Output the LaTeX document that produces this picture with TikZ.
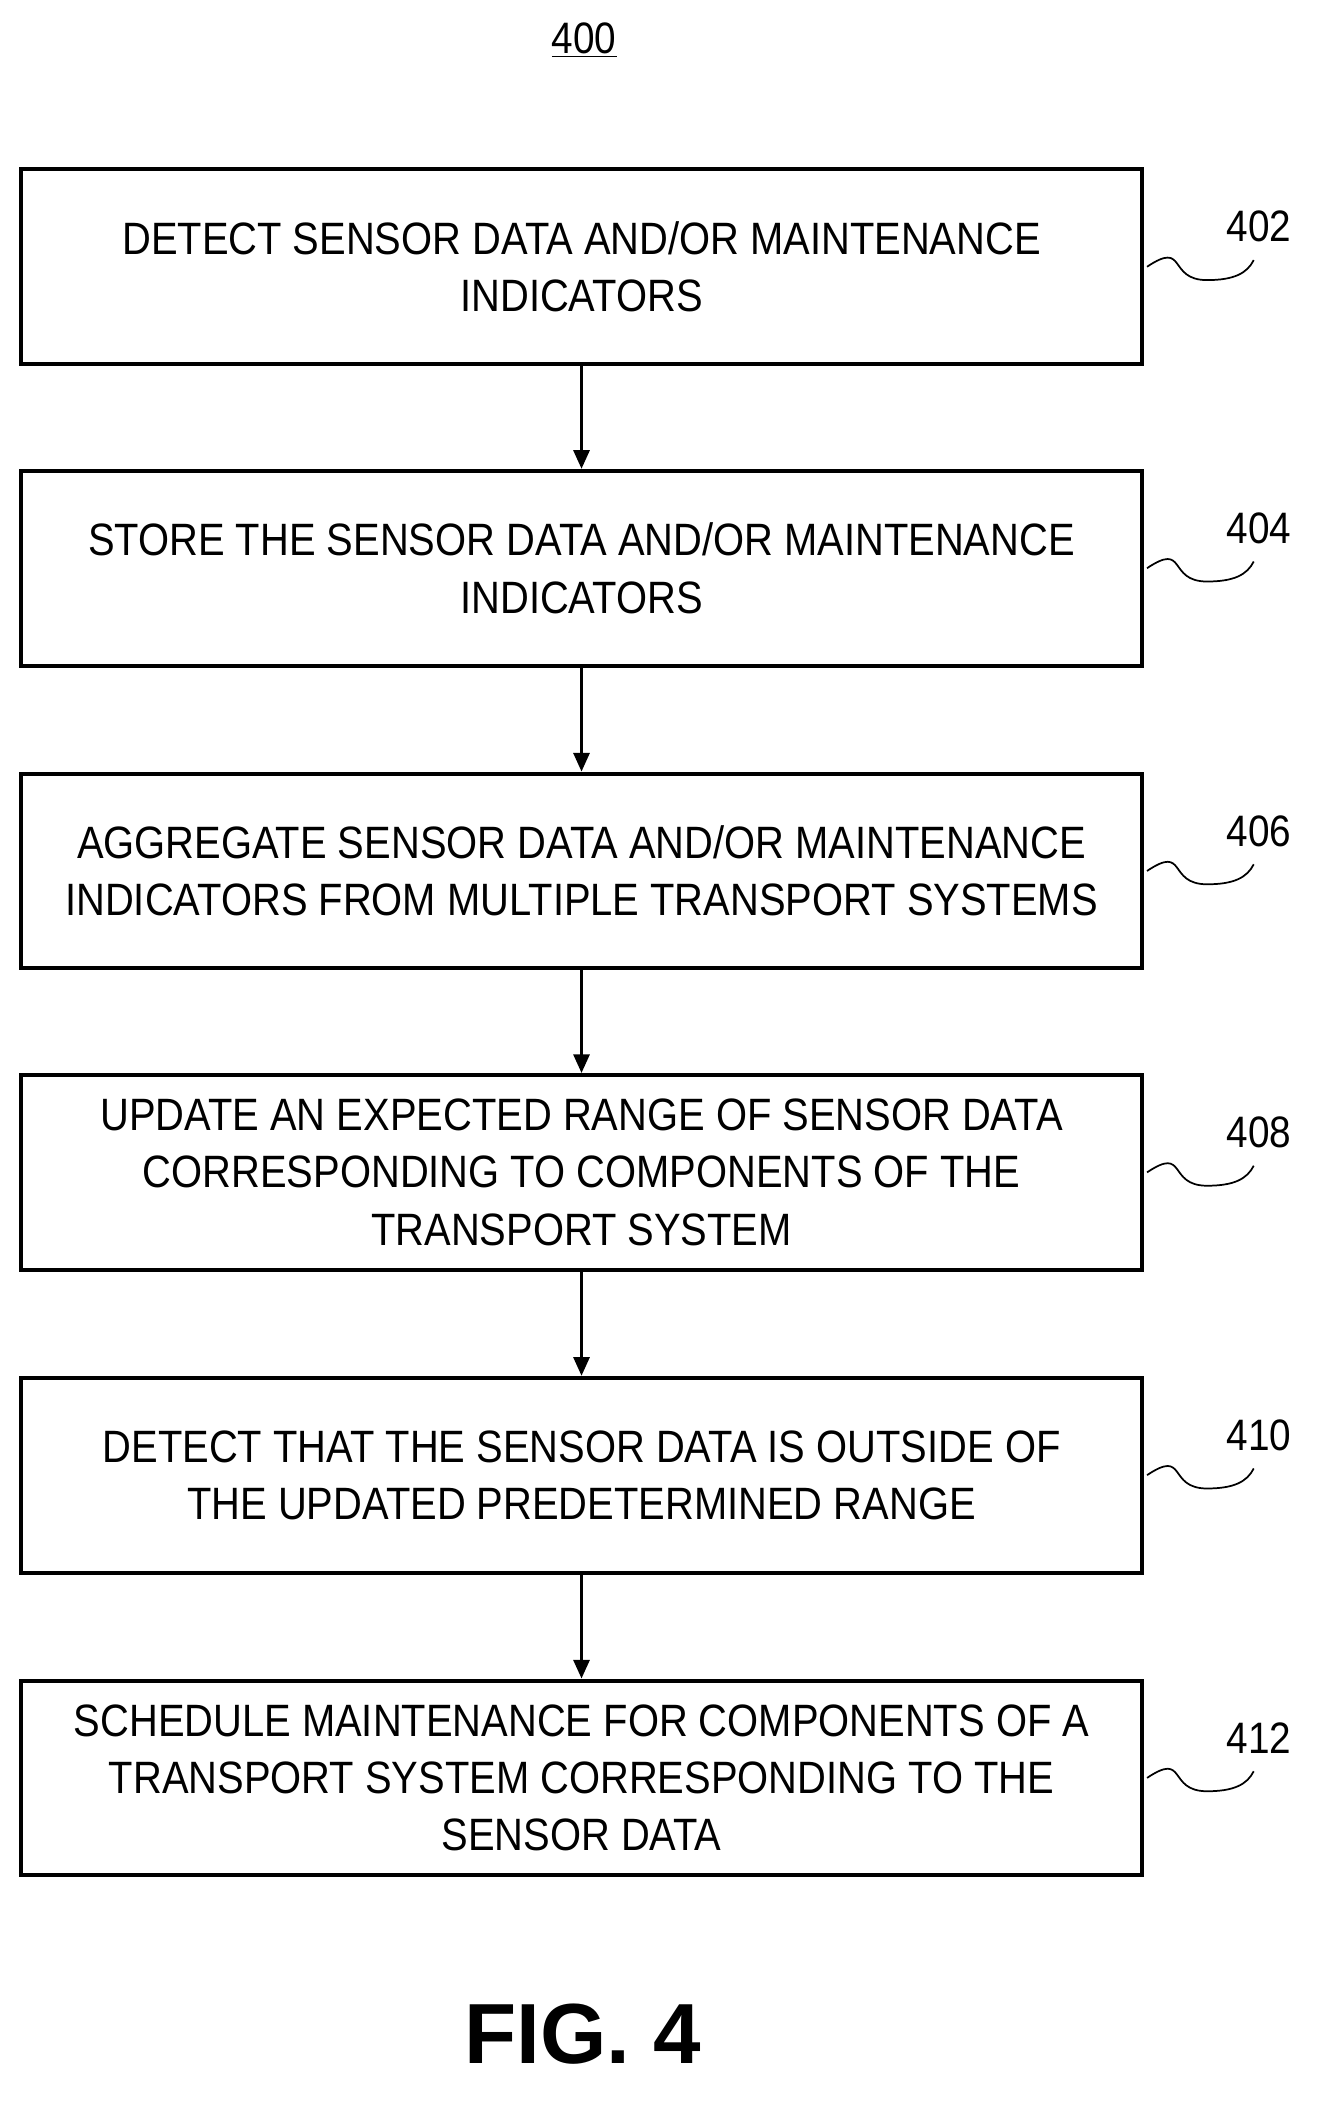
\documentclass[tikz,border=0pt]{standalone}
\usepackage{fontspec}
\setmainfont{Liberation Sans}[FakeStretch=0.88]
\newfontfamily\figfont{Liberation Sans}
\usetikzlibrary{arrows.meta}
\usetikzlibrary{positioning}

\begin{document}
\begin{tikzpicture}[x=1pt,y=-1pt,
    stepbox/.style={draw,line width=3pt,minimum width=841pt,minimum height=146pt,
      align=center,font=\fontsize{34}{43}\selectfont,inner sep=0pt},
    flow/.style={-{Triangle[length=14pt,width=12pt]},line width=2.2pt},
    tag/.style={font=\fontsize{33}{36}\selectfont}]
  \useasboundingbox (0,0) rectangle (995,1585);
  \node[font=\fontsize{33}{36}\selectfont] (title) at (438,30) {\underline{400}};
  \foreach \n/\y/\t in {
      402/200/{DETECT SENSOR DATA AND/OR MAINTENANCE\\INDICATORS},
      404/426/{STORE THE SENSOR DATA AND/OR MAINTENANCE\\INDICATORS},
      406/653/{AGGREGATE SENSOR DATA AND/OR MAINTENANCE\\INDICATORS FROM MULTIPLE TRANSPORT SYSTEMS},
      408/879/{UPDATE AN EXPECTED RANGE OF SENSOR DATA\\CORRESPONDING TO COMPONENTS OF THE\\TRANSPORT SYSTEM},
      410/1106/{DETECT THAT THE SENSOR DATA IS OUTSIDE OF\\THE UPDATED PREDETERMINED RANGE},
      412/1333/{SCHEDULE MAINTENANCE FOR COMPONENTS OF A\\TRANSPORT SYSTEM CORRESPONDING TO THE\\SENSOR DATA}}
  {
    \node[stepbox] (s\n) at (436,\y) {\t};
    \node[tag] (l\n) at (944,\y-30) {\n};
    \coordinate (w\n) at (940,\y-5);
    \draw[line width=1.3pt] (s\n.east) ++(2,0) .. controls +(30,-20) and +(-30,0) .. +(45,10)
      .. controls +(20,0) and +(-5,10) .. (w\n);
  }
  \draw[flow] (s402) -- (s404);
  \draw[flow] (s404) -- (s406);
  \draw[flow] (s406) -- (s408);
  \draw[flow] (s408) -- (s410);
  \draw[flow] (s410) -- (s412);
  \node[font=\figfont\bfseries\fontsize{64}{70}\selectfont] (fig) at (437,1525) {FIG. 4};
\end{tikzpicture}
\end{document}
